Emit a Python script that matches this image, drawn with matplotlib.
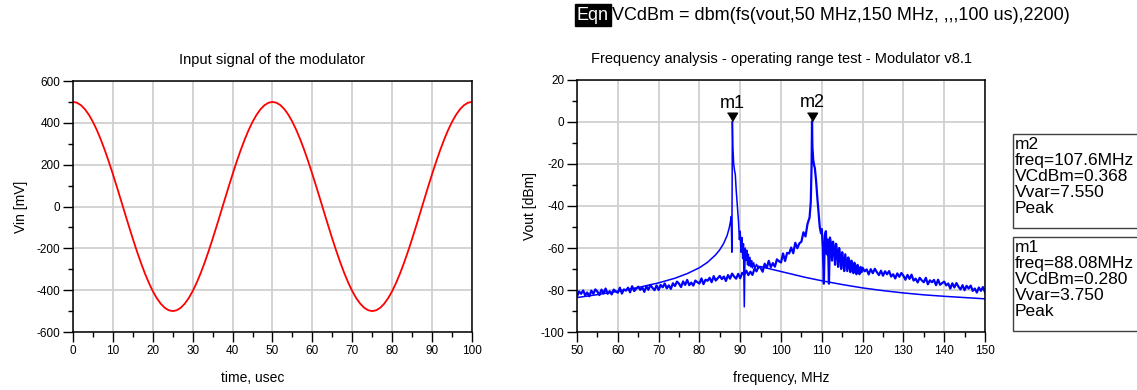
import numpy as np
import matplotlib.pyplot as plt
from matplotlib.patches import Rectangle
from matplotlib.ticker import MultipleLocator

plt.rcParams['font.family'] = ['Liberation Sans', 'DejaVu Sans']
plt.rcParams['axes.unicode_minus'] = False

# --- input signal (time in usec, Vin in mV), read every 1 us
t_us = np.arange(0, 101, 1)
vin_mv = [500, 496.1, 484.3, 464.9, 438.2, 404.5, 364.5, 318.7, 267.9, 212.9,
          154.5, 93.7, 31.4, -31.4, -93.7, -154.5, -212.9, -267.9, -318.7, -364.5,
          -404.5, -438.2, -464.9, -484.3, -496.1, -500, -496.1, -484.3, -464.9, -438.2,
          -404.5, -364.5, -318.7, -267.9, -212.9, -154.5, -93.7, -31.4, 31.4, 93.7,
          154.5, 212.9, 267.9, 318.7, 364.5, 404.5, 438.2, 464.9, 484.3, 496.1,
          500, 496.1, 484.3, 464.9, 438.2, 404.5, 364.5, 318.7, 267.9, 212.9,
          154.5, 93.7, 31.4, -31.4, -93.7, -154.5, -212.9, -267.9, -318.7, -364.5,
          -404.5, -438.2, -464.9, -484.3, -496.1, -500, -496.1, -484.3, -464.9, -438.2,
          -404.5, -364.5, -318.7, -267.9, -212.9, -154.5, -93.7, -31.4, 31.4, 93.7,
          154.5, 212.9, 267.9, 318.7, 364.5, 404.5, 438.2, 464.9, 484.3, 496.1, 500]

# --- spectrum trace 1 (Vvar=3.750, peak m1)
fa = [50, 55, 60, 65, 70, 74, 77, 80, 82, 84, 85, 86, 86.8, 87.3, 87.6, 87.8,
      87.95, 88.0, 88.08, 88.2, 88.4, 88.6, 88.8, 89.0, 89.3, 89.6, 89.8,
      90.0, 90.2, 90.4, 90.6, 90.8, 91.0, 91.2, 91.4, 91.6, 91.8, 92.0, 92.2,
      92.4, 92.6, 92.8, 93.0, 93.3, 93.6, 94.0, 94.4, 95, 97, 100, 103, 106,
      110, 115, 120, 125, 130, 135, 140, 145, 150]
va = [-83.6, -82.2, -80.6, -78.8, -76.6, -74.4, -72.2, -69.4, -66.8, -63.2,
      -60.8, -57.6, -54.0, -50.5, -47.5, -45.0,
      -62.0, -40.0, 0.28, -12.0, -20.0, -23.0, -25.0, -32.0, -40.0, -48.0,
      -56.0, -52.0, -62.0, -55.0, -65.0, -58.0, -88.0, -60.0, -66.0, -61.0,
      -68.0, -63.0, -68.5, -64.5, -69.0, -66.0, -69.5, -67.0, -69.8, -67.8,
      -69.5, -68.8, -69.8, -71.2, -72.6, -74.0,
      -75.6, -77.4, -79.0, -80.3, -81.4, -82.3, -83.0, -83.6, -84.2]

# --- spectrum trace 2 (Vvar=7.550, peak m2), noisy
fb_low = np.arange(50, 106.51, 0.5)
vb_low = [-83.0, -80.7, -81.8, -80.2, -82.5, -81.2, -83.0, -80.3, -81.8, -79.7,
          -80.8, -82.4, -79.8, -81.6, -79.3, -81.8, -80.6, -82.1, -79.8, -80.7,
          -81.3, -78.9, -81.7, -79.7, -80.3, -78.9, -81.1, -78.2, -80.5, -79.4,
          -78.4, -79.9, -78.8, -80.9, -78.2, -79.9, -77.6, -79.0, -80.1, -77.8,
          -80.0, -77.6, -78.7, -76.9, -79.2, -77.8, -79.5, -76.8, -78.1, -76.0,
          -77.0, -78.6, -75.9, -77.6, -75.2, -77.7, -76.5, -77.9, -75.5, -76.3,
          -76.9, -74.5, -77.2, -75.1, -75.6, -74.2, -76.3, -73.4, -75.5, -74.4,
          -73.3, -74.8, -73.6, -75.7, -72.9, -74.6, -72.2, -73.6, -74.6, -72.3,
          -74.4, -71.8, -72.7, -70.8, -72.9, -71.3, -72.8, -69.9, -71.1, -68.8,
          -69.5, -71.3, -67.5, -69.5, -66.1, -69.1, -67.2, -68.9, -65.4, -66.3,
          -66.9, -62.6, -66.2, -62.3, -62.6, -59.8, -62.5, -57.5, -60.1, -57.8,
          -57.0, -52.5, -54.5, -48.5]
fb_peak = [107.0, 107.3, 107.5, 107.6, 107.7, 107.9, 108.1, 108.3, 108.6,
           108.9, 109.2, 109.5, 109.8]
vb_peak = [-45.5, -38.0, -20.0, 0.37, -12.0, -18.0, -20.5, -22.0, -28.0,
           -36.0, -43.0, -50.0, -53.0]
fb_rip = np.arange(110, 119.76, 0.25)
vb_rip = [-51, -60, -77, -54, -52, -63, -56, -77, -55, -58,
          -66, -57, -60, -68, -58, -62, -69, -60, -64, -70,
          -62, -66, -71, -63, -67, -71, -64.5, -68.5, -71.5, -66,
          -69.5, -72, -67, -70.5, -72.5, -68, -71, -72.5, -69, -71.5]
fb_high = np.arange(120, 150.01, 0.5)
vb_high = [-69.4, -71.1, -70.2, -72.6, -70.1, -72.0, -69.9, -71.5, -72.9, -70.8,
           -73.2, -71.1, -72.5, -71.0, -73.6, -72.5, -74.5, -72.1, -73.7, -71.9,
           -73.2, -75.1, -72.8, -74.7, -72.7, -75.5, -74.6, -76.4, -74.2, -75.4,
           -76.3, -74.2, -77.3, -75.4, -76.3, -75.2, -77.7, -75.1, -77.5, -76.7,
           -76.0, -77.8, -76.9, -79.3, -76.8, -78.8, -76.7, -78.4, -79.7, -77.7,
           -80.1, -78.0, -79.3, -77.9, -80.4, -79.3, -81.2, -78.8, -80.4, -78.6, -81.0]
fb = np.concatenate([fb_low, fb_peak, fb_rip, fb_high])
vb = np.concatenate([vb_low, vb_peak, vb_rip, vb_high])

markers = [("m1", 88.08, 0.280, 3.750), ("m2", 107.6, 0.368, 7.550)]

fig = plt.figure(figsize=(11.37, 3.9), dpi=100)
ax1 = fig.add_axes([0.0642, 0.1487, 0.3509, 0.6436])
ax2 = fig.add_axes([0.5075, 0.1487, 0.3588, 0.6462])


def style(ax):
    ax.grid(True, which='major', color='#d0d0d0', lw=1.3)
    ax.set_axisbelow(True)
    ax.tick_params(which='major', direction='out', length=7.5, width=1,
                   labelsize=8.5, pad=1.5)
    ax.tick_params(which='minor', direction='out', length=3.5, width=1)
    for s in ax.spines.values():
        s.set_linewidth(1.1)


ax1.plot(t_us, vin_mv, color='#ff0000', lw=1.3)
ax1.set_xlim(0, 100)
ax1.set_ylim(-600, 600)
ax1.xaxis.set_major_locator(MultipleLocator(10))
ax1.xaxis.set_minor_locator(MultipleLocator(5))
ax1.yaxis.set_major_locator(MultipleLocator(200))
ax1.yaxis.set_minor_locator(MultipleLocator(100))
style(ax1)
ax1.set_title("Input signal of the modulator", fontsize=10.5, pad=12)
ax1.set_xlabel("time, usec", fontsize=10)
ax1.xaxis.set_label_coords(0.45, -0.155)
ax1.set_ylabel("Vin [mV]", fontsize=10, labelpad=6)

ax2.plot(fb, vb, color='#0000ff', lw=1.6)
ax2.plot(fa, va, color='#0000ff', lw=1.1)
ax2.set_xlim(50, 150)
ax2.set_ylim(-100, 20)
ax2.xaxis.set_major_locator(MultipleLocator(10))
ax2.xaxis.set_minor_locator(MultipleLocator(5))
ax2.yaxis.set_major_locator(MultipleLocator(20))
ax2.yaxis.set_minor_locator(MultipleLocator(10))
style(ax2)
ax2.set_title("Frequency analysis - operating range test - Modulator v8.1",
              fontsize=10.5, pad=12)
ax2.set_xlabel("frequency, MHz", fontsize=10)
ax2.xaxis.set_label_coords(0.5, -0.155)
ax2.set_ylabel("Vout [dBm]", fontsize=10, labelpad=3)

tri = [(-0.6, 1.0), (0.6, 1.0), (0.0, 0.0)]
for name, f, v, vvar in markers:
    ax2.plot([f], [v], marker=tri, markersize=12, color='black', ls='none',
             clip_on=False)
    ax2.annotate(name, xy=(f, v), xytext=(0, 7), textcoords='offset points',
                 ha='center', va='bottom', fontsize=13)

# marker readout boxes (m2 on top, m1 below), cut by the right edge
W, H = 1137.0, 390.0
box_top = [134, 237]
for (name, f, v, vvar), top in zip(markers[::-1], box_top):
    ftxt = f"{f:.1f}MHz" if f >= 100 else f"{f:.2f}MHz"
    txt = f"{name}\nfreq={ftxt}\nVCdBm={v:.3f}\nVvar={vvar:.3f}\nPeak"
    fig.patches.append(Rectangle((1013 / W, 1 - (top + 94) / H), 140 / W, 94 / H,
                                 transform=fig.transFigure, fc='white',
                                 ec='#404040', lw=1.0, clip_on=False))
    fig.text(1015 / W, 1 - (top + 3) / H, txt, fontsize=12.5, va='top',
             ha='left', linespacing=1.08)

fig.text(577 / W, 1 - 15 / H, "Eqn", fontsize=13, color='white', va='center',
         ha='left', bbox=dict(boxstyle='square,pad=0.12', fc='black', ec='black'))
fig.text(612 / W, 1 - 15 / H,
         "VCdBm = dbm(fs(vout,50 MHz,150 MHz, ,,,100 us),2200)",
         fontsize=13, va='center', ha='left')

fig.savefig("out.png", dpi=100)
